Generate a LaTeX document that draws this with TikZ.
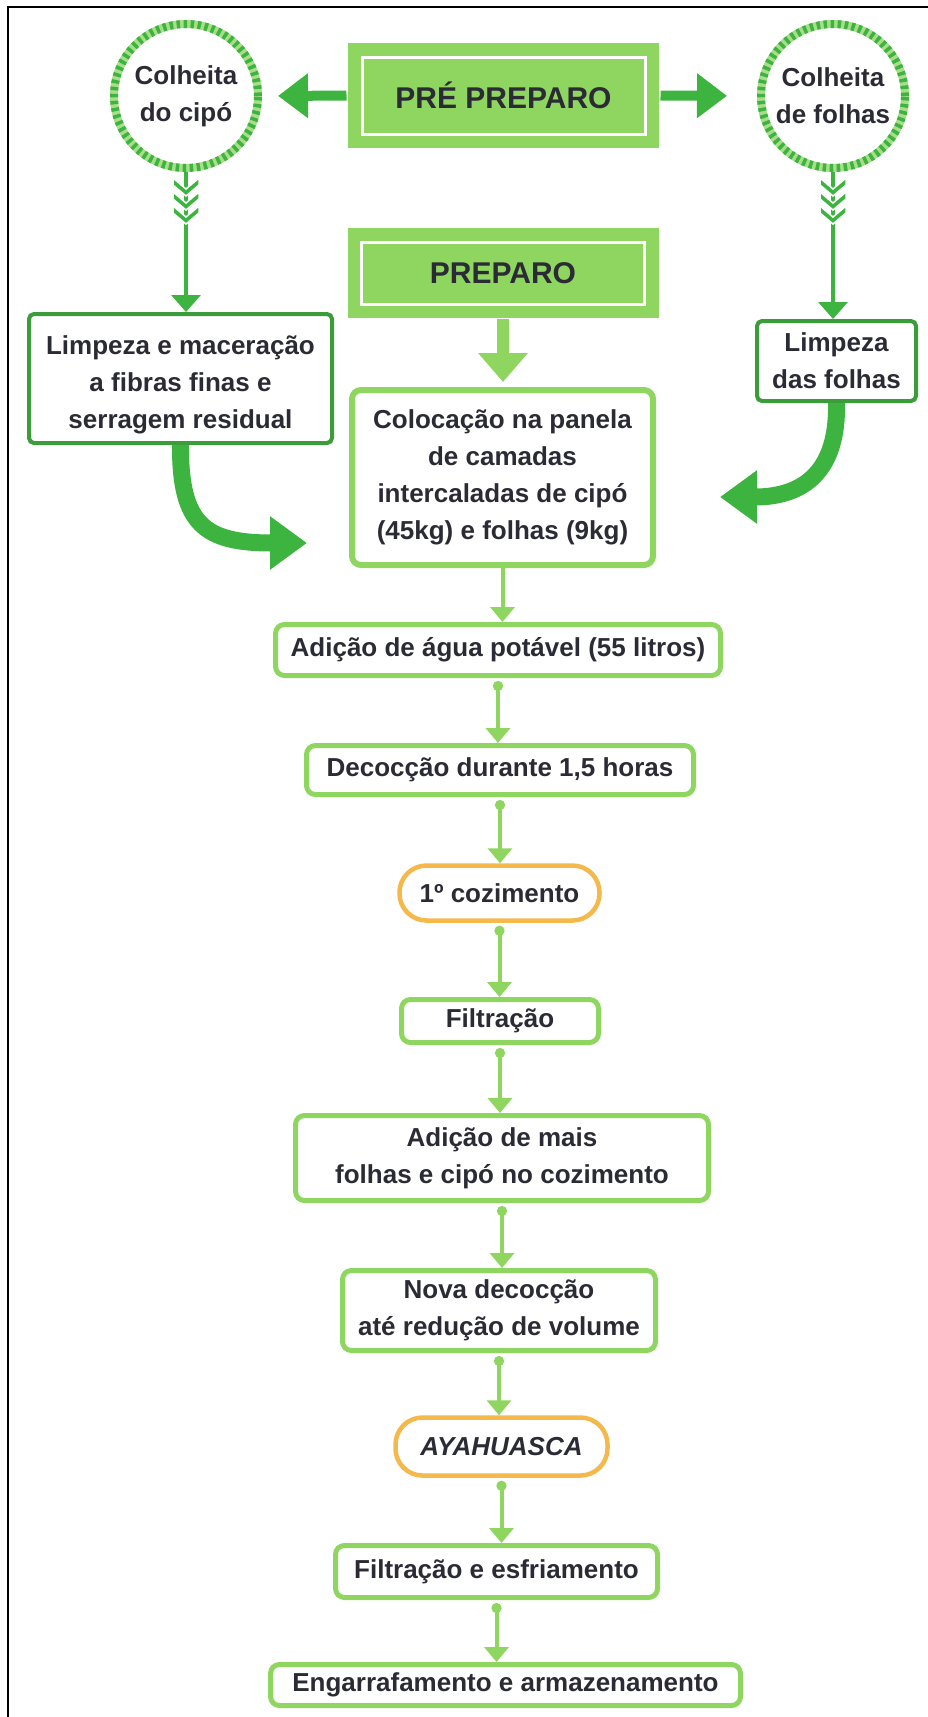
\documentclass[tikz,border=0pt]{standalone}
\usepackage{fontspec}
\setmainfont{Liberation Sans}
\usepackage{xcolor}
\usepackage{tikz}
\usetikzlibrary{arrows.meta}
\usetikzlibrary{shapes.geometric, calc}

\definecolor{verde}{HTML}{3DB43F}
\definecolor{verdebox}{HTML}{3A9D3A}
\definecolor{verdeclaro}{HTML}{8ED65F}
\definecolor{corda}{HTML}{A8DE8A}
\definecolor{laranja}{HTML}{F5B84A}
\definecolor{texto}{HTML}{2B2B35}

\begin{document}
\begin{tikzpicture}[x=1pt, y=-1pt,
    rotulo/.style={text=texto, font=\bfseries\fontsize{26}{37}\selectfont, align=center, inner sep=0pt},
    colheita/.style={circle, rotulo, minimum size=144pt, line width=8pt, draw=corda,
        postaction={draw=verde, line width=8pt, dash pattern=on 3.5pt off 3.5pt}},
    fase/.style={rectangle, fill=verdeclaro, draw=white, line width=3pt,
        preaction={draw=verdeclaro, line width=28pt}, text=texto,
        font=\bfseries\fontsize{30}{36}\selectfont},
    limpeza/.style={rectangle, rotulo, rounded corners=5pt, draw=verdebox, line width=4pt, fill=white},
    etapa/.style={rectangle, rotulo, rounded corners=9pt, draw=verdeclaro, line width=5pt, fill=white},
    cozimento/.style={rectangle, rotulo, rounded corners=27pt, draw=laranja, line width=4.5pt, fill=white},
    divisa/.style={fill=verde, draw=white, line width=1.5pt},
    setafina/.style={draw=verde, line width=3.5pt, -{Triangle[width=29pt,length=17pt]}},
    setagrossa/.style={draw=verde, line width=10pt, -{Triangle[width=43pt,length=30pt]}},
    setaprep/.style={draw=verdeclaro, line width=12pt, -{Triangle[width=48pt,length=29pt]}},
    curva/.style={draw=verde, line width=17pt, -{Triangle[width=51pt,length=37pt]}},
    seta/.style={draw=verdeclaro, line width=4pt, {Circle[length=10pt]}-{Triangle[width=24pt,length=15pt]}, shorten <=3pt},
    setasimples/.style={draw=verdeclaro, line width=4pt, -{Triangle[width=24pt,length=15pt]}}]
    \useasboundingbox (0,0) rectangle (928,1717);

    % Moldura
    \draw[black, line width=1.5pt] (8,1717) -- (8,7) -- (928,7);

    % Pre preparo
    \node[fase, minimum width=283pt, minimum height=77pt] (prepre) at (503.5,95.5) {PRÉ PREPARO};
    \node[colheita] (cipo) at (186,96) {Colheita\\do cipó};
    \node[colheita] (folhas) at (833,96) {Colheita\\de folhas};
    \draw[setagrossa, shorten <=14pt, shorten >=16pt] (prepre.west) -- (cipo.east);
    \draw[setagrossa, shorten <=14pt, shorten >=30pt] (prepre.east) -- (folhas.west);

    % Preparo
    \node[fase, minimum width=283pt, minimum height=62pt] (prep) at (503,273) {PREPARO};
    \node[limpeza, minimum width=303pt, minimum height=129pt] (limpc) at (180.5,378.5)
        {\rule{0pt}{32pt}Limpeza e maceração\\a fibras finas e\\serragem residual};
    \node[limpeza, minimum width=159pt, minimum height=80pt] (limpf) at (836.5,361) {Limpeza\\das folhas};
    \node[etapa, line width=6pt, minimum width=301pt, minimum height=175pt] (coloc) at (502.5,477.5)
        {Colocação na panela\\de camadas\\intercaladas de cipó\\(45kg) e folhas (9kg)};

    \draw[setafina] (cipo.south) -- (cipo.south |- limpc.north);
    \draw[setafina] (folhas.south) -- (folhas.south |- limpf.north);
    \foreach \c in {cipo,folhas}
        \foreach \k in {0,1,2}
            \filldraw[divisa] ($(\c.south)+(-13,6+14*\k)$) -- ++(13,11) -- ++(13,-11) -- ++(0,7)
                -- ++(-13,11) -- ++(-13,-11) -- cycle;
    \draw[setaprep, shorten <=13pt, shorten >=5pt] (prep.south) -- (prep.south |- coloc.north);

    \coordinate (pontaE) at (307,543);
    \coordinate (pontaD) at (720,497);
    \draw[curva] (limpc.south) .. controls (180,525) and (205,543) .. (pontaE);
    \draw[curva] (limpf.south) .. controls (838,470) and (805,497) .. (pontaD);

    % Etapas
    \node[etapa, minimum width=445pt, minimum height=51pt] (agua) at (498,650) {Adição de água potável (55 litros)};
    \node[etapa, minimum width=387pt, minimum height=49pt] (decoc) at (500,770) {Decocção durante 1,5 horas};
    \node[cozimento, minimum width=200pt, minimum height=55pt] (coz1) at (499.5,893) {1º cozimento};
    \node[etapa, minimum width=197pt, minimum height=43pt] (filt) at (500,1021) {Filtração};
    \node[etapa, minimum width=413pt, minimum height=85pt] (mais) at (502,1158)
        {Adição de mais\\folhas e cipó no cozimento};
    \node[etapa, minimum width=313pt, minimum height=80pt] (nova) at (499,1310.5)
        {Nova decocção\\até redução de volume};
    \node[cozimento, minimum width=212pt, minimum height=58pt] (aya) at (501.5,1446.5) {\itshape AYAHUASCA};
    \node[etapa, minimum width=322pt, minimum height=52pt] (filtesf) at (496.5,1571.5) {Filtração e esfriamento};
    \node[etapa, minimum width=470pt, minimum height=41pt] (engarr) at (505.5,1685) {Engarrafamento e armazenamento};

    \draw[setasimples] (coloc.south) -- (coloc.south |- agua.north);
    \foreach \a/\b in {agua/decoc, decoc/coz1, coz1/filt, filt/mais, mais/nova, nova/aya, aya/filtesf, filtesf/engarr}
        \draw[seta] (\a.south) -- (\a.south |- \b.north);
\end{tikzpicture}
\end{document}
